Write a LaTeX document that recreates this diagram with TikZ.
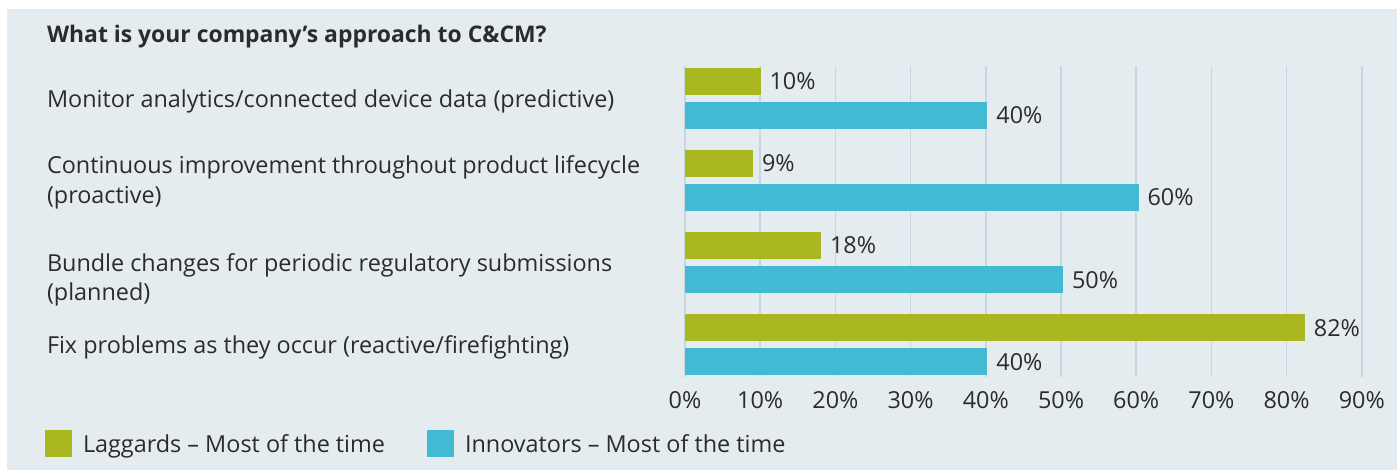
\documentclass[tikz,border=0pt]{standalone}
\usepackage{fontspec}
\setmainfont{Open Sans}
\definecolor{bgc}{HTML}{E5ECF0}
\definecolor{lagc}{HTML}{A9B820}
\definecolor{innc}{HTML}{43BAD4}
\definecolor{gridc}{HTML}{CAD6DF}
\definecolor{txtc}{HTML}{2B2B2B}
\begin{document}
\begin{tikzpicture}[x=1pt,y=-1pt,
  every node/.style={inner sep=0pt,outer sep=0pt,text=txtc,font=\fontsize{23.4}{30}\selectfont},
  lagbar/.style={fill=lagc},
  innbar/.style={fill=innc},
  gridline/.style={draw=gridc,line width=1.5pt},
  lbl/.style={anchor=base west},
  ticklbl/.style={anchor=base},
  titletext/.style={anchor=base west,font=\fontsize{22.9}{30}\selectfont\bfseries}]
\useasboundingbox (0,0) rectangle (1397,470);
\fill[white] (0,0) rectangle (1397,470);
\fill[bgc] (7,9) rectangle (1397,470);
% grid and axis labels
\foreach \i in {0,...,9}{
  \pgfmathsetmacro\gx{685+75.2*\i}
  \draw[gridline] (\gx,66) -- (\gx,377);
  \pgfmathtruncatemacro\pc{10*\i}
  \node[ticklbl] (tick\i) at (\gx,408) {\pc\%};
}
% bars
\foreach \n/\top/\lag/\inn in {1/68/10/40,2/150/9/60,3/232/18/50,4/314/82/40}{
  \pgfmathsetmacro\le{685+7.56*\lag}
  \pgfmathsetmacro\ie{685+7.56*\inn}
  \pgfmathsetmacro\lb{\top+27}
  \pgfmathsetmacro\it{\top+34}
  \pgfmathsetmacro\ib{\top+61}
  \fill[lagbar] (685,\top) rectangle (\le,\lb);
  \fill[innbar] (685,\it) rectangle (\ie,\ib);
  \node[lbl] (lagv\n) at (\le+9,\top+22) {\lag\%};
  \node[lbl] (innv\n) at (\ie+9,\top+56) {\inn\%};
}
% title and categories
\node[titletext] (title) at (47,43) {What is your company’s approach to C\&CM?};
\node[lbl] (cat1) at (47,108) {Monitor analytics/connected device data (predictive)};
\node[lbl] (cat2a) at (47,174) {Continuous improvement throughout product lifecycle};
\node[lbl] (cat2b) at (47,204) {(proactive)};
\node[lbl] (cat3a) at (47,272) {Bundle changes for periodic regulatory submissions};
\node[lbl] (cat3b) at (47,301) {(planned)};
\node[lbl] (cat4) at (47,353) {Fix problems as they occur (reactive/firefighting)};
% legend
\fill[lagbar] (45,430) rectangle (72,457);
\node[lbl] (leglag) at (83,452) {Laggards – Most of the time};
\fill[innbar] (427,430) rectangle (454,457);
\node[lbl] (leginn) at (465,452) {Innovators – Most of the time};
\end{tikzpicture}
\end{document}
